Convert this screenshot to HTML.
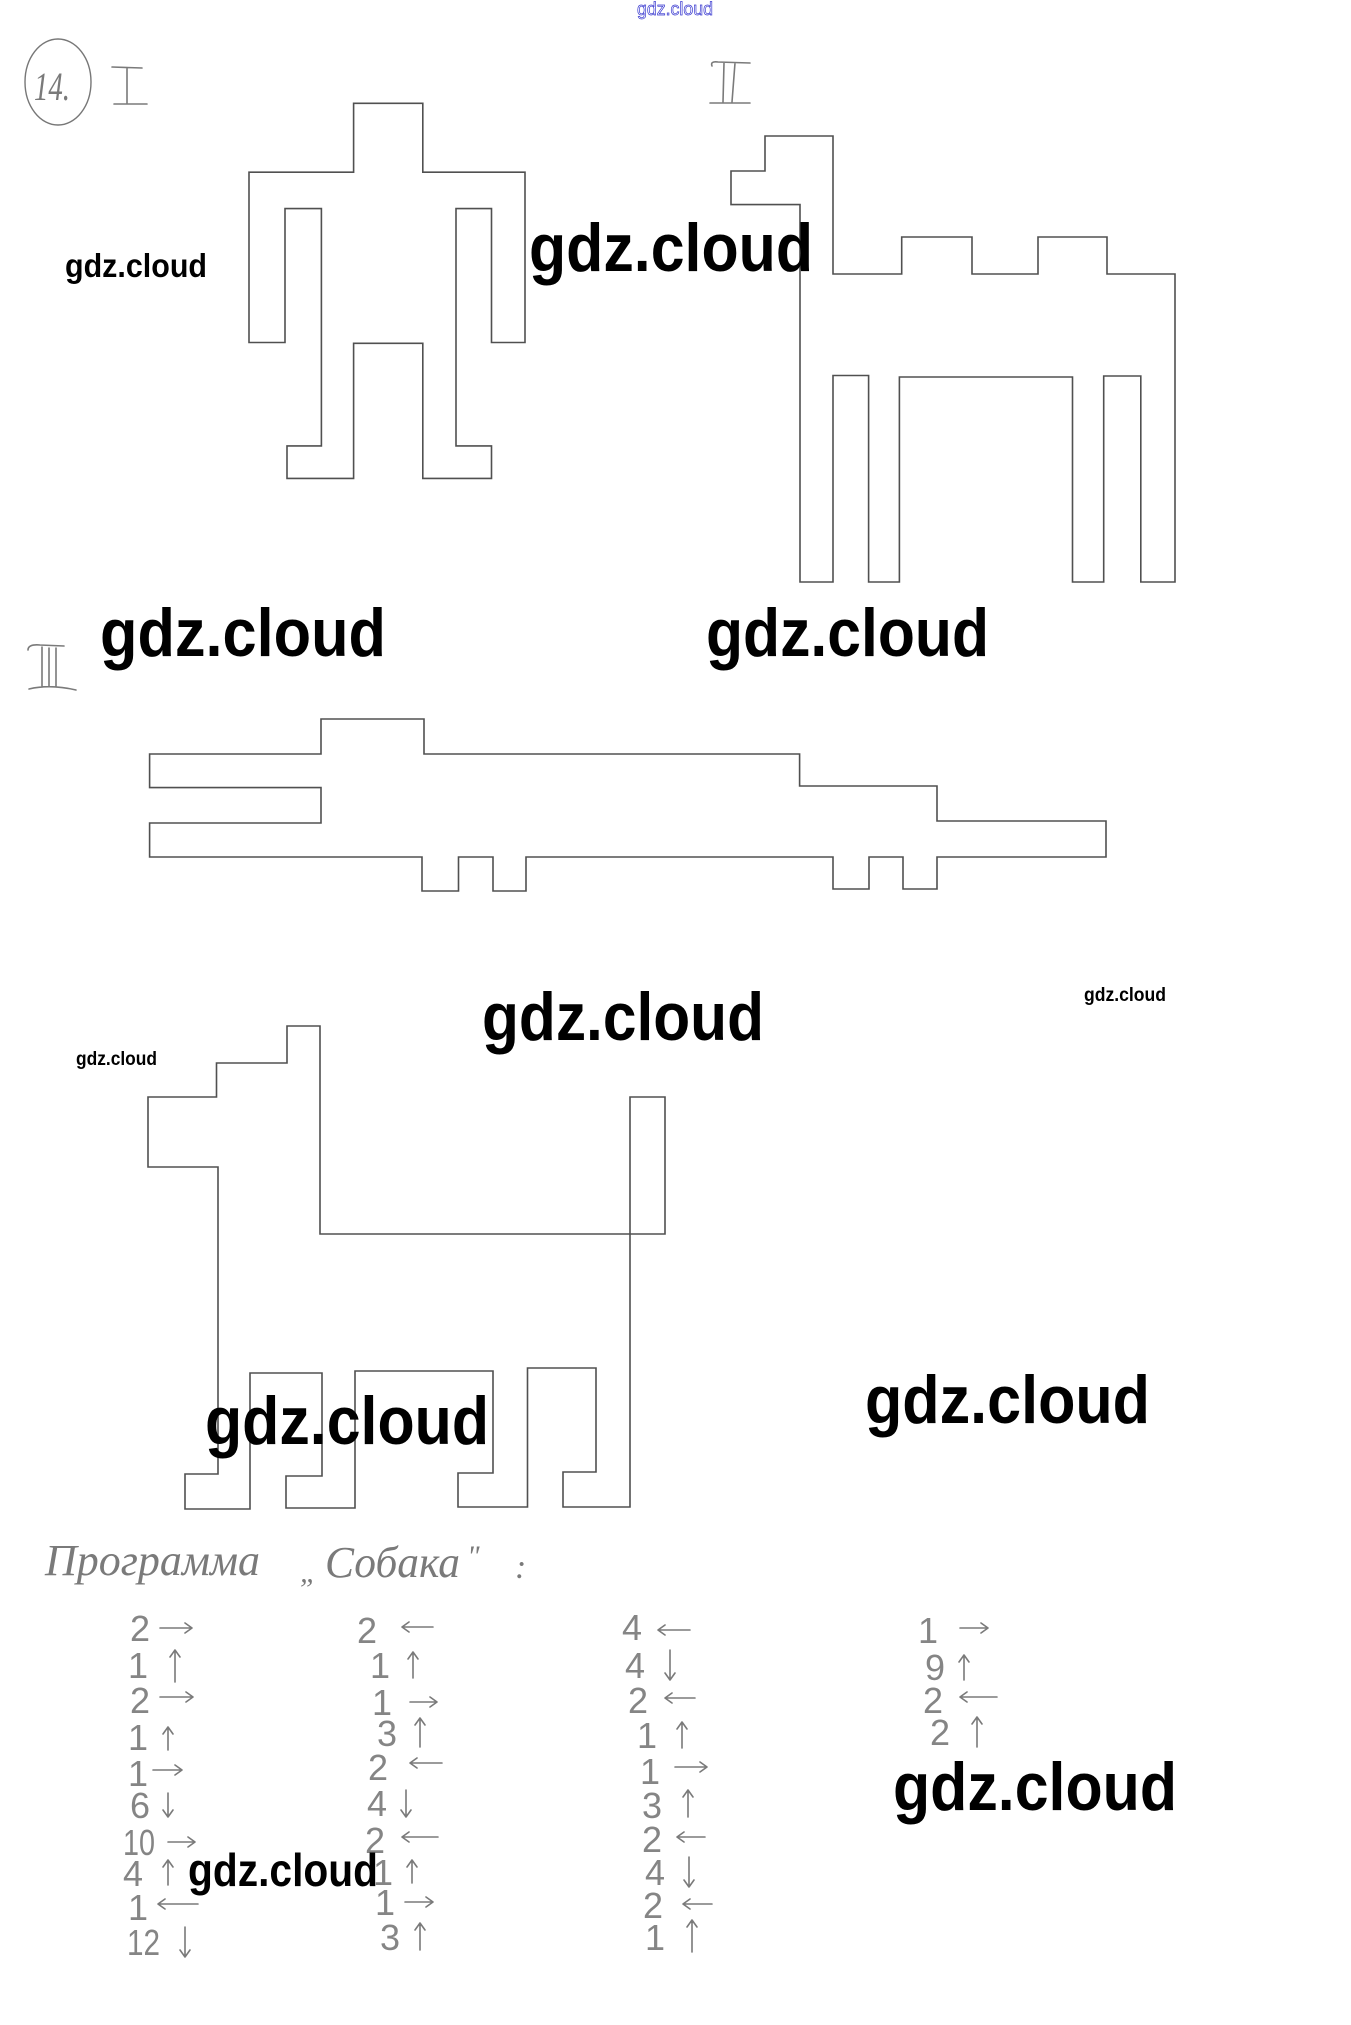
<!DOCTYPE html>
<html>
<head>
<meta charset="utf-8">
<style>
  html, body { margin:0; padding:0; background:#ffffff; }
  body { width:1351px; height:2025px; overflow:hidden; }
  svg { display:block; }
  .ln { fill:none; stroke:#505050; stroke-width:1.6; stroke-linejoin:miter; }
  .hw { fill:none; stroke:#7a7a7a; stroke-width:1.6; stroke-linecap:round; stroke-linejoin:round; }
  .wm { font-family:"Liberation Sans", sans-serif; font-weight:bold; fill:#000; }
  .dg { font-family:"Liberation Sans", sans-serif; font-size:36px; fill:#858585; }
  .hand { font-family:"Liberation Serif", "Noto Serif CJK SC", serif; font-style:italic; fill:#7a7a7a; }
</style>
</head>
<body>
<svg width="1351" height="2025" viewBox="0 0 1351 2025" xmlns="http://www.w3.org/2000/svg">
  <rect width="1351" height="2025" fill="#ffffff"/>

  <!-- top blue watermark -->
  <text x="637" y="15" font-family="Liberation Sans, sans-serif" font-size="18" fill="#ffffff" stroke="#3a3ad0" stroke-width="0.7" textLength="76" lengthAdjust="spacingAndGlyphs">gdz.cloud</text>

  <!-- circled 14 -->
  <ellipse cx="58" cy="82" rx="33" ry="43" fill="none" stroke="#777" stroke-width="1.4"/>
  <text x="34" y="100" class="hand" font-size="40" textLength="36" lengthAdjust="spacingAndGlyphs">14.</text>

  <!-- Roman I -->
  <path class="hw" d="M112,67 L142,68 M127,68 L127,103 M114,104 L147,104"/>
  <!-- Roman II -->
  <path class="hw" d="M712,66 Q710,61 718,62 L750,63 M724,63 L723,102 M735,63 L732,102 M710,103 L750,103"/>
  <!-- Roman III -->
  <path class="hw" d="M28,650 Q28,644 40,645 L64,646 M42,647 L42,686 M49,648 L49,686 M56,648 L56,686 M29,689 Q50,684 76,690"/>

  <!-- Figure I : robot -->
  <path class="ln" d="M353.6,103.3 L422.8,103.3 L422.8,172.2 L525,172.2 L525,342.5 L491.5,342.5 L491.5,208.6 L456,208.6 L456,445.9 L491.5,445.9 L491.5,478.4 L422.8,478.4 L422.8,343.3 L353.6,343.3 L353.6,478.4 L287,478.4 L287,445.9 L321.4,445.9 L321.4,208.6 L285,208.6 L285,342.5 L249,342.5 L249,172.2 L353.6,172.2 Z"/>

  <!-- Figure II : camel -->
  <path class="ln" d="M765,136 L833,136 L833,274 L901.7,274 L901.7,237 L972,237 L972,274 L1038,274 L1038,237 L1107,237 L1107,274 L1175,274 L1175,582 L1140.8,582 L1140.8,376 L1103.7,376 L1103.7,582 L1072.5,582 L1072.5,377 L899.4,377 L899.4,582 L868.6,582 L868.6,375.5 L833,375.5 L833,582 L800,582 L800,204.6 L731,204.6 L731,171 L765,171 Z"/>

  <!-- Figure III : fish -->
  <path class="ln" d="M321,754 L321,719 L424,719 L424,754 L799.6,754 L799.6,786 L937,786 L937,821 L1106,821 L1106,857 L937,857 L937,889 L903,889 L903,857 L869,857 L869,889 L833,889 L833,857 L526,857 L526,891 L493,891 L493,857 L458.5,857 L458.5,891 L422,891 L422,857 L149.6,857 L149.6,823 L321,823 L321,787.6 L149.6,787.6 L149.6,754 Z"/>

  <!-- Figure IV : dog -->
  <path class="ln" d="M287,1026 L320,1026 L320,1234 L665,1234 L665,1097 L630,1097 L630,1507 L563,1507 L563,1472 L596,1472 L596,1368 L527.5,1368 L527.5,1507 L458,1507 L458,1473 L493,1473 L493,1371 L355,1371 L355,1508 L286,1508 L286,1476 L322,1476 L322,1373 L250,1373 L250,1509 L185,1509 L185,1474 L218,1474 L218,1167 L148,1167 L148,1097 L216.5,1097 L216.5,1063 L287,1063 Z"/>

  <!-- Title -->
  <text x="45" y="1575" class="hand" font-size="44" textLength="215" lengthAdjust="spacingAndGlyphs">Программа</text>
  <text x="300" y="1582" class="hand" font-size="30">„</text>
  <text x="325" y="1577" class="hand" font-size="44" textLength="135" lengthAdjust="spacingAndGlyphs">Собака</text>
  <text x="467" y="1566" class="hand" font-size="30">"</text>
  <text x="515" y="1578" class="hand" font-size="34">:</text>

  <!-- Column 1 -->
  <g class="dg">
    <text x="130" y="1641">2</text>
    <text x="128" y="1678">1</text>
    <text x="130" y="1713">2</text>
    <text x="128" y="1750">1</text>
    <text x="128" y="1786">1</text>
    <text x="130" y="1818">6</text>
    <text x="123" y="1855" textLength="32" lengthAdjust="spacingAndGlyphs">10</text>
    <text x="123" y="1886">4</text>
    <text x="128" y="1920">1</text>
    <text x="127" y="1955" textLength="33" lengthAdjust="spacingAndGlyphs">12</text>
  </g>
  <path class="hw" d="
    M160,1628 L192,1628 M185,1623 L192,1628 L185,1633
    M175,1682 L175,1650 M170,1657 L175,1650 L180,1657
    M160,1697 L193,1697 M186,1692 L193,1697 L186,1702
    M168,1750 L168,1727 M163,1734 L168,1727 L173,1734
    M153,1770 L182,1770 M175,1765 L182,1770 L175,1775
    M168,1793 L168,1817 M163,1810 L168,1817 L173,1810
    M168,1842 L195,1842 M188,1837 L195,1842 L188,1847
    M168,1885 L168,1860 M163,1867 L168,1860 L173,1867
    M158,1904 L198,1904 M165,1899 L158,1904 L165,1909
    M185,1927 L185,1957 M180,1950 L185,1957 L190,1950"/>

  <!-- Column 2 -->
  <g class="dg">
    <text x="357" y="1643">2</text>
    <text x="370" y="1678">1</text>
    <text x="372" y="1715">1</text>
    <text x="377" y="1746">3</text>
    <text x="368" y="1780">2</text>
    <text x="367" y="1816">4</text>
    <text x="365" y="1853">2</text>
    <text x="373" y="1885">1</text>
    <text x="375" y="1915">1</text>
    <text x="380" y="1950">3</text>
  </g>
  <path class="hw" d="
    M402,1627 L433,1627 M409,1622 L402,1627 L409,1632
    M413,1678 L413,1652 M408,1659 L413,1652 L418,1659
    M410,1702 L437,1702 M430,1697 L437,1702 L430,1707
    M420,1747 L420,1718 M415,1725 L420,1718 L425,1725
    M410,1763 L442,1763 M417,1758 L410,1763 L417,1768
    M406,1790 L406,1817 M401,1810 L406,1817 L411,1810
    M402,1837 L438,1837 M409,1832 L402,1837 L409,1842
    M412,1883 L412,1860 M407,1867 L412,1860 L417,1867
    M405,1902 L433,1902 M426,1897 L433,1902 L426,1907
    M420,1950 L420,1923 M415,1930 L420,1923 L425,1930"/>

  <!-- Column 3 -->
  <g class="dg">
    <text x="622" y="1640">4</text>
    <text x="625" y="1678">4</text>
    <text x="628" y="1713">2</text>
    <text x="637" y="1748">1</text>
    <text x="640" y="1784">1</text>
    <text x="642" y="1818">3</text>
    <text x="642" y="1852">2</text>
    <text x="645" y="1885">4</text>
    <text x="643" y="1918">2</text>
    <text x="645" y="1950">1</text>
  </g>
  <path class="hw" d="
    M658,1630 L690,1630 M665,1625 L658,1630 L665,1635
    M670,1650 L670,1680 M665,1673 L670,1680 L675,1673
    M665,1698 L695,1698 M672,1693 L665,1698 L672,1703
    M682,1748 L682,1722 M677,1729 L682,1722 L687,1729
    M675,1767 L707,1767 M700,1762 L707,1767 L700,1772
    M688,1817 L688,1790 M683,1797 L688,1790 L693,1797
    M677,1837 L705,1837 M684,1832 L677,1837 L684,1842
    M689,1857 L689,1887 M684,1880 L689,1887 L694,1880
    M683,1904 L712,1904 M690,1899 L683,1904 L690,1909
    M692,1952 L692,1920 M687,1927 L692,1920 L697,1927"/>

  <!-- Column 4 -->
  <g class="dg">
    <text x="918" y="1643">1</text>
    <text x="925" y="1680">9</text>
    <text x="923" y="1713">2</text>
    <text x="930" y="1745">2</text>
  </g>
  <path class="hw" d="
    M960,1628 L988,1628 M981,1623 L988,1628 L981,1633
    M964,1680 L964,1655 M959,1662 L964,1655 L969,1662
    M960,1697 L997,1697 M967,1692 L960,1697 L967,1702
    M977,1747 L977,1717 M972,1724 L977,1717 L982,1724"/>

  <!-- Watermarks -->
  <text class="wm" x="65" y="277" font-size="33" textLength="142" lengthAdjust="spacingAndGlyphs">gdz.cloud</text>
  <text class="wm" x="529" y="271" font-size="68" textLength="284" lengthAdjust="spacingAndGlyphs">gdz.cloud</text>
  <text class="wm" x="100" y="656" font-size="68" textLength="286" lengthAdjust="spacingAndGlyphs">gdz.cloud</text>
  <text class="wm" x="706" y="656" font-size="68" textLength="283" lengthAdjust="spacingAndGlyphs">gdz.cloud</text>
  <text class="wm" x="482" y="1040" font-size="68" textLength="282" lengthAdjust="spacingAndGlyphs">gdz.cloud</text>
  <text class="wm" x="1084" y="1001" font-size="19" textLength="82" lengthAdjust="spacingAndGlyphs">gdz.cloud</text>
  <text class="wm" x="76" y="1065" font-size="19" textLength="81" lengthAdjust="spacingAndGlyphs">gdz.cloud</text>
  <text class="wm" x="205" y="1444" font-size="68" textLength="284" lengthAdjust="spacingAndGlyphs">gdz.cloud</text>
  <text class="wm" x="865" y="1423" font-size="68" textLength="285" lengthAdjust="spacingAndGlyphs">gdz.cloud</text>
  <text class="wm" x="893" y="1810" font-size="68" textLength="284" lengthAdjust="spacingAndGlyphs">gdz.cloud</text>
  <text class="wm" x="188" y="1886" font-size="46" textLength="190" lengthAdjust="spacingAndGlyphs">gdz.cloud</text>
</svg>
</body>
</html>
